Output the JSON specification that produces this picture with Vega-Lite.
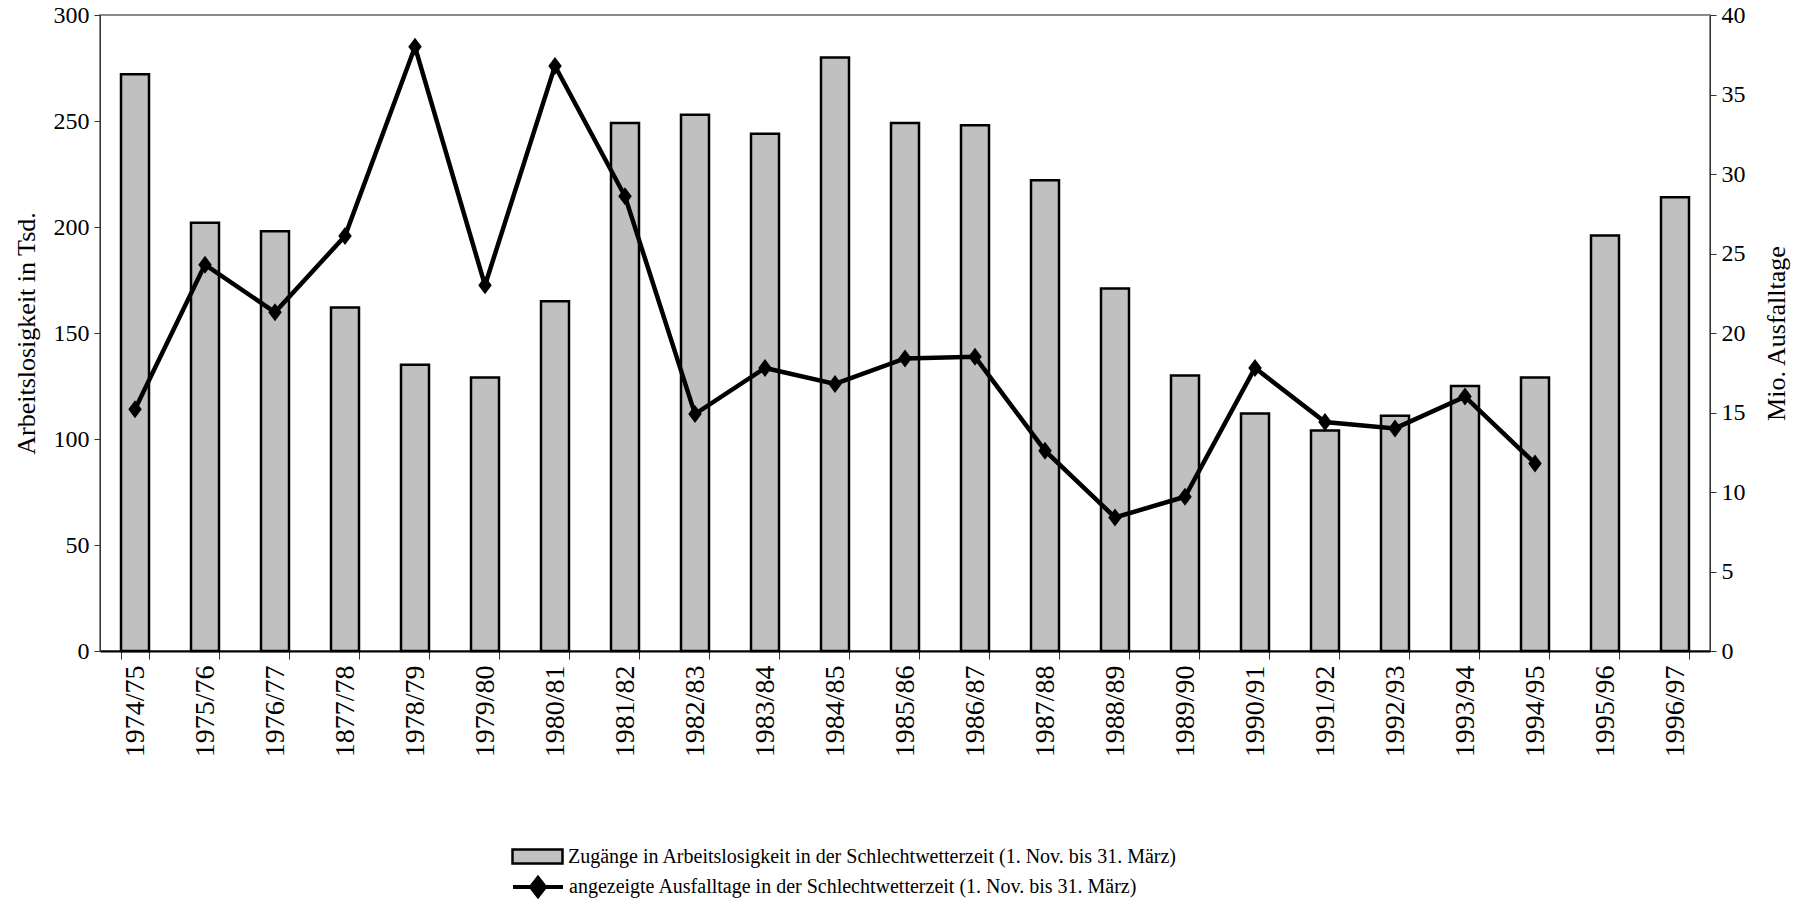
{
  "$schema": "https://vega.github.io/schema/vega-lite/v6.json",
  "width": 1610,
  "height": 636,
  "autosize": {"type": "none"},
  "padding": {"left": 100, "top": 15, "right": 95, "bottom": 250},
  "background": "white",
  "config": {
    "font": "Liberation Serif",
    "view": {"stroke": "#8a8a8a", "strokeWidth": 2},
    "axis": {
      "grid": false,
      "labelFont": "Liberation Serif",
      "titleFont": "Liberation Serif",
      "labelColor": "black",
      "titleColor": "black",
      "titleFontWeight": "normal",
      "tickColor": "#333333",
      "domainColor": "#333333"
    },
    "legend": {"labelFont": "Liberation Serif", "labelColor": "black"}
  },
  "data": {
    "values": [
      {"season": "1974/75", "zugaenge": 272, "ausfall": 15.2},
      {"season": "1975/76", "zugaenge": 202, "ausfall": 24.3},
      {"season": "1976/77", "zugaenge": 198, "ausfall": 21.3},
      {"season": "1877/78", "zugaenge": 162, "ausfall": 26.1},
      {"season": "1978/79", "zugaenge": 135, "ausfall": 38.0},
      {"season": "1979/80", "zugaenge": 129, "ausfall": 23.0},
      {"season": "1980/81", "zugaenge": 165, "ausfall": 36.8},
      {"season": "1981/82", "zugaenge": 249, "ausfall": 28.6},
      {"season": "1982/83", "zugaenge": 253, "ausfall": 14.9},
      {"season": "1983/84", "zugaenge": 244, "ausfall": 17.8},
      {"season": "1984/85", "zugaenge": 280, "ausfall": 16.8},
      {"season": "1985/86", "zugaenge": 249, "ausfall": 18.4},
      {"season": "1986/87", "zugaenge": 248, "ausfall": 18.5},
      {"season": "1987/88", "zugaenge": 222, "ausfall": 12.6},
      {"season": "1988/89", "zugaenge": 171, "ausfall": 8.4},
      {"season": "1989/90", "zugaenge": 130, "ausfall": 9.7},
      {"season": "1990/91", "zugaenge": 112, "ausfall": 17.8},
      {"season": "1991/92", "zugaenge": 104, "ausfall": 14.4},
      {"season": "1992/93", "zugaenge": 111, "ausfall": 14.0},
      {"season": "1993/94", "zugaenge": 125, "ausfall": 16.0},
      {"season": "1994/95", "zugaenge": 129, "ausfall": 11.8},
      {"season": "1995/96", "zugaenge": 196, "ausfall": null},
      {"season": "1996/97", "zugaenge": 214, "ausfall": null}
    ]
  },
  "encoding": {
    "x": {
      "field": "season",
      "type": "nominal",
      "sort": null,
      "scale": {"paddingInner": 0.6, "paddingOuter": 0.3},
      "axis": {
        "title": null,
        "tickBand": "extent",
        "tickSize": 8,
        "labelAngle": 270,
        "labelFontSize": 28,
        "labelPadding": 6,
        "domainColor": "black",
        "domainWidth": 2,
        "tickColor": "#333333"
      }
    }
  },
  "layer": [
    {
      "mark": {"type": "bar", "stroke": "black", "strokeWidth": 2.5},
      "encoding": {
        "y": {
          "field": "zugaenge",
          "type": "quantitative",
          "scale": {"domain": [0, 300], "nice": false},
          "axis": {
            "orient": "left",
            "title": "Arbeitslosigkeit in Tsd.",
            "titleFontSize": 26,
            "titlePadding": 14,
            "values": [0, 50, 100, 150, 200, 250, 300],
            "labelFontSize": 24,
            "labelPadding": 5,
            "tickSize": 6
          }
        },
        "fill": {
          "datum": "Zugänge in Arbeitslosigkeit in der Schlechtwetterzeit (1. Nov. bis 31. März)",
          "scale": {"range": ["#c0c0c0"]},
          "legend": {
            "orient": "none",
            "legendX": 411,
            "legendY": 815,
            "title": null,
            "padding": 0,
            "symbolType": "M-1,-0.28H1V0.28H-1Z",
            "symbolSize": 2500,
            "symbolStrokeColor": "black",
            "symbolStrokeWidth": 2.5,
            "labelFontSize": 20,
            "labelOffset": 4,
            "labelLimit": 1000
          }
        }
      }
    },
    {
      "encoding": {
        "y": {
          "field": "ausfall",
          "type": "quantitative",
          "scale": {"domain": [0, 40], "nice": false},
          "axis": {
            "orient": "right",
            "title": "Mio. Ausfalltage",
            "titleAngle": 270,
            "titleBaseline": "bottom",
            "titleFontSize": 26,
            "titlePadding": 44,
            "values": [0, 5, 10, 15, 20, 25, 30, 35, 40],
            "labelFontSize": 24,
            "labelPadding": 5,
            "tickSize": 6
          }
        }
      },
      "layer": [
        {
          "mark": {"type": "line", "strokeWidth": 4.5},
          "encoding": {
            "stroke": {
              "datum": "angezeigte Ausfalltage in der Schlechtwetterzeit (1. Nov. bis 31. März)",
              "scale": {"range": ["black"]},
              "legend": {
                "orient": "none",
                "legendX": 411,
                "legendY": 845,
                "title": null,
                "padding": 0,
                "symbolType": "M-1,0H1M-0.28,0L0,-0.36L0.28,0L0,0.36Z",
                "symbolSize": 2500,
                "symbolStrokeWidth": 4,
                "symbolFillColor": "black",
                "labelFontSize": 20,
                "labelOffset": 4,
                "labelLimit": 1000,
                "encode": {"symbols": {"update": {"fill": {"value": "black"}, "stroke": {"value": "black"}}}}
              }
            }
          }
        },
        {
          "mark": {"type": "point", "shape": "M0,-1L0.75,0L0,1L-0.75,0Z", "size": 324, "filled": true, "color": "black", "opacity": 1},
          "encoding": {}
        }
      ]
    }
  ],
  "resolve": {"scale": {"y": "independent"}}
}
